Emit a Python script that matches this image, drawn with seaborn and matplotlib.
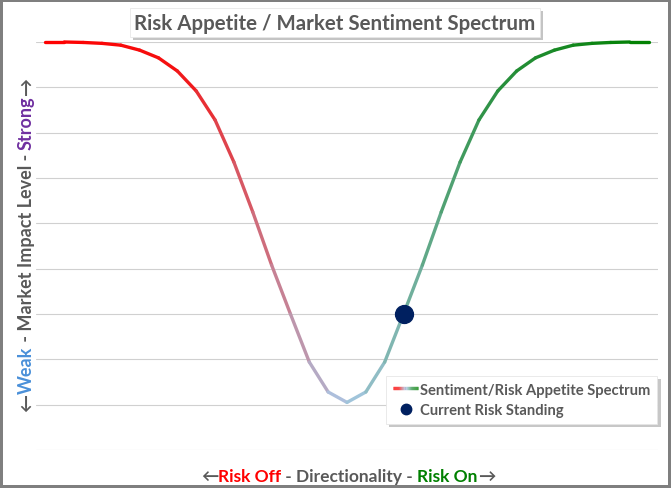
import numpy as np
import matplotlib
matplotlib.use('Agg')
import matplotlib.pyplot as plt
import seaborn as sns
import pandas as pd
from matplotlib.collections import LineCollection
from matplotlib.colors import LinearSegmentedColormap
from matplotlib.legend_handler import HandlerBase
from matplotlib.lines import Line2D
import matplotlib.patheffects as pe

# ---------------- data ----------------
positions = list(range(33))
impact = [9.0, 9.0, 8.99, 8.97, 8.93, 8.82, 8.65, 8.36, 7.92, 7.28, 6.35,
          5.25, 4.08, 3.0, 1.94, 1.28, 1.05, 1.28, 1.94, 3.0, 4.08, 5.25,
          6.35, 7.28, 7.92, 8.36, 8.65, 8.82, 8.93, 8.97, 8.99, 9.0, 9.0]
current_pos = [19]
current_val = [3.0]

title = "Risk Appetite / Market Sentiment Spectrum"
line_label = "Sentiment/Risk Appetite Spectrum"
dot_label = "Current Risk Standing"

GRAY = '#595959'
RED = '#ff0000'
GREEN = '#008000'
BLUE = '#4a90d9'
PURPLE = '#7030a0'
NAVY = '#002060'

xlabel_parts = [("\u2190", GRAY), ("Risk Off", RED), (" - Directionality - ", GRAY),
                ("Risk On", GREEN), ("\u2192", GRAY)]
ylabel_parts = [("\u2190", GRAY), ("Weak", BLUE), (" - Market Impact Level - ", GRAY),
                ("Strong", PURPLE), ("\u2192", GRAY)]

# ---------------- style ----------------
sns.set_theme(style='white')
plt.rcParams['font.family'] = ['Lato', 'DejaVu Sans']

W, H = 671, 489
fig = plt.figure(figsize=(W / 100, H / 100), dpi=100)
fig.patch.set_facecolor('white')
fig.patch.set_edgecolor('#7f7f7f')
fig.patch.set_linewidth(3)

ax = fig.add_axes([36 / W, 1 - 451 / H, (658 - 36) / W, (451 - 43) / H])
ax.set_xlim(-0.5, 32.5)
ax.set_ylim(0, 9)
ax.set_yticks(range(0, 10))
ax.set_xticks([])
ax.tick_params(left=False, bottom=False, labelleft=False, labelbottom=False)
for s in ax.spines.values():
    s.set_visible(False)
ax.grid(axis='y', color='#d0d0d0', linewidth=0.8)
ax.set_axisbelow(True)

cmap = LinearSegmentedColormap.from_list(
    'spec', [(0.0, '#ff0000'), (0.22, '#f41010'), (0.5, '#a9c8e6'),
             (0.75, '#2a9040'), (1.0, '#008000')])

# gradient line
df = pd.DataFrame({'pos': positions, 'impact': impact})
pts = np.column_stack([df['pos'].to_numpy(float), df['impact'].to_numpy(float)])
segs = np.stack([pts[:-1], pts[1:]], axis=1)
mids = (pts[:-1, 0] + pts[1:, 0]) / 2
cols = cmap((mids - pts[0, 0]) / (pts[-1, 0] - pts[0, 0]))
lc = LineCollection(segs, colors=cols, linewidths=2.4, capstyle='round',
                    joinstyle='round', zorder=3, clip_on=False)
ax.add_collection(lc)

# current point
dfc = pd.DataFrame({'pos': current_pos, 'val': current_val})
sns.scatterplot(data=dfc, x='pos', y='val', ax=ax, s=165, color=NAVY,
                edgecolor=NAVY, zorder=4, legend=False)
ax.set_xlabel('')
ax.set_ylabel('')


# ---------------- legend ----------------
class GradientLine:
    pass


class GradientHandler(HandlerBase):
    def create_artists(self, legend, orig_handle, xdescent, ydescent,
                       width, height, fontsize, trans):
        n = 24
        xs = np.linspace(-xdescent, width - xdescent, n + 1)
        y = height / 2 - ydescent
        sg = [[(xs[i], y), (xs[i + 1], y)] for i in range(n)]
        c = LineCollection(sg, colors=cmap(np.linspace(0, 1, n)),
                           linewidths=2.4, transform=trans)
        return [c]


dot_handle = Line2D([], [], marker='o', linestyle='none', color=NAVY,
                    markersize=7.5)
leg = ax.legend([GradientLine(), dot_handle], [line_label, dot_label],
                handler_map={GradientLine: GradientHandler()},
                loc='upper left', bbox_to_anchor=(386 / W, 1 - 377 / H),
                bbox_transform=fig.transFigure, borderaxespad=0,
                frameon=True, fancybox=False, handlelength=1.75,
                handletextpad=0.12, borderpad=0.45, labelspacing=0.45,
                prop={'weight': 'bold', 'size': 10.6},
                shadow={'ox': 2.5, 'oy': -2.5, 'facecolor': '#9a9a9a',
                        'edgecolor': 'none', 'alpha': 0.55})
leg.get_frame().set_edgecolor('#e6e6e6')
leg.get_frame().set_linewidth(0.6)
for t in leg.get_texts():
    t.set_color(GRAY)
leg.set_zorder(6)

# ---------------- title ----------------
tt = fig.text(335 / W, 1 - 23.5 / H, title, ha='center', va='center',
              fontsize=14.8, fontweight='bold', color=GRAY,
              bbox=dict(boxstyle='square,pad=0.22', facecolor='white',
                        edgecolor='#e8e8e8', linewidth=0.6))
tt.get_bbox_patch().set_path_effects([
    pe.SimplePatchShadow(offset=(2, -2), shadow_rgbFace='#8a8a8a', alpha=0.5),
    pe.Normal()])

# ---------------- multicolour axis labels ----------------
renderer = fig.canvas.get_renderer()


def text_width(s, fs):
    t = fig.text(0, 0, s, fontsize=fs, fontweight='bold')
    w = t.get_window_extent(renderer).width
    t.remove()
    return w


def colored_label(parts, center_px, baseline_px, fs):
    full = ''.join(p for p, _ in parts)
    bar = text_width('|', fs)
    total = text_width(full + '|', fs) - bar
    start = center_px - total / 2
    prefix = ''
    for s, c in parts:
        off = (text_width(prefix + '|', fs) - bar) if prefix else 0.0
        fig.text((start + off) / W, 1 - baseline_px / H, s, color=c,
                 fontsize=fs, fontweight='bold', ha='left', va='baseline')
        prefix += s


def colored_label_v(parts, center_px, baseline_x, fs):
    full = ''.join(p for p, _ in parts)
    bar = text_width('|', fs)
    total = text_width(full + '|', fs) - bar
    bottom = center_px + total / 2
    prefix = ''
    for s, c in parts:
        off = (text_width(prefix + '|', fs) - bar) if prefix else 0.0
        fig.text(baseline_x / W, 1 - (bottom - off) / H, s, color=c,
                 fontsize=fs, fontweight='bold', rotation=90,
                 rotation_mode='anchor', ha='left', va='baseline')
        prefix += s


colored_label(xlabel_parts, 348, 482, 12.5)
colored_label_v(ylabel_parts, 245, 32, 13)

fig.savefig('out.png', dpi=100, facecolor=fig.get_facecolor(),
            edgecolor=fig.get_edgecolor())
